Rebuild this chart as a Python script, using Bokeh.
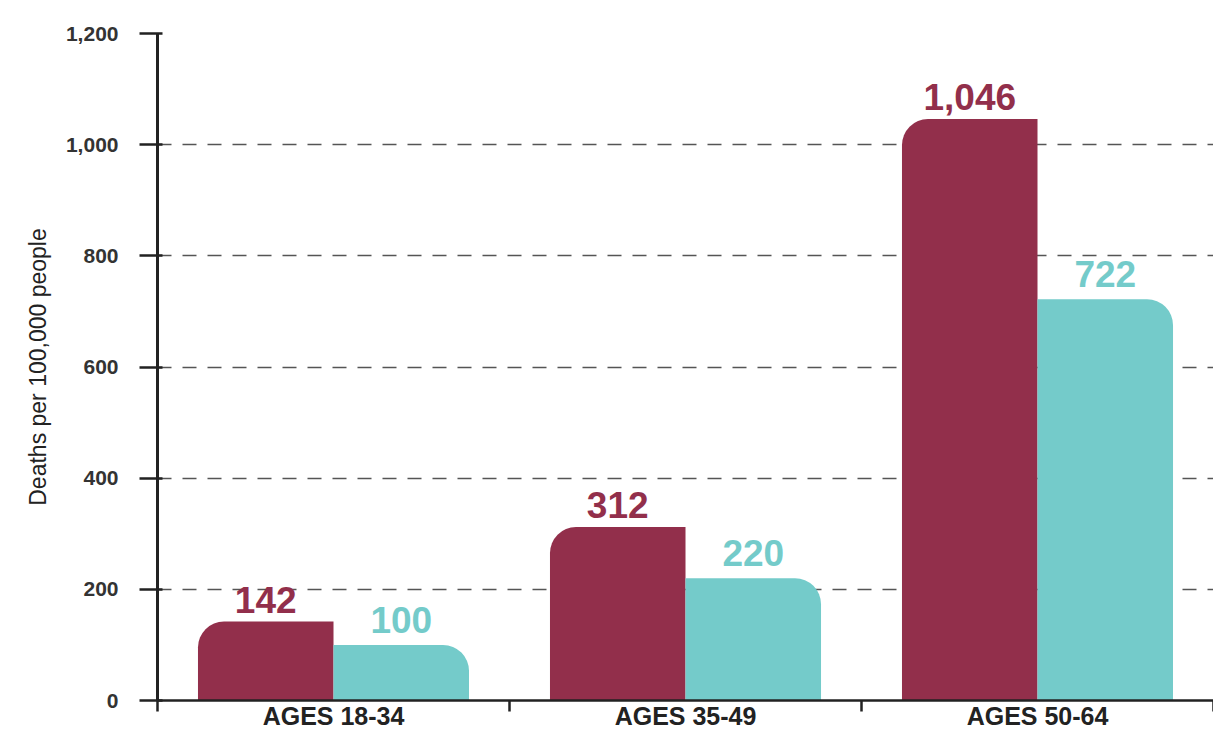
from bokeh.plotting import figure
from bokeh.models import FixedTicker, Range1d, ColumnDataSource
from bokeh.embed import file_html
from bokeh.resources import INLINE

categories = ["AGES 18-34", "AGES 35-49", "AGES 50-64"]
series_a = [142, 312, 1046]
series_b = [100, 220, 722]
label_a = ["142", "312", "1,046"]
label_b = ["100", "220", "722"]
y_ticks = [0, 200, 400, 600, 800, 1000, 1200]
y_tick_labels = ["0", "200", "400", "600", "800", "1,000", "1,200"]

RED = "#922f4b"
TEAL = "#74cbca"
BW = 0.385
FONT = "Liberation Sans"

centers = [i + 0.5 for i in range(len(categories))]
src_a = ColumnDataSource(dict(x=[c - BW / 2 for c in centers], top=series_a, lab=label_a))
src_b = ColumnDataSource(dict(x=[c + BW / 2 for c in centers], top=series_b, lab=label_b))

p = figure(width=1213, height=732, output_backend="svg", toolbar_location=None,
           x_range=Range1d(0, len(categories)), y_range=Range1d(0, 1200),
           min_border_left=157, min_border_right=0, min_border_top=33, min_border_bottom=0)
p.outline_line_color = None
p.background_fill_color = "white"

p.vbar(x="x", top="top", bottom=0, width=BW, source=src_a, fill_color=RED, line_color=None,
       border_radius=(26, 0, 0, 0))
p.vbar(x="x", top="top", bottom=0, width=BW, source=src_b, fill_color=TEAL, line_color=None,
       border_radius=(0, 26, 0, 0))

p.text(x="x", y="top", text="lab", source=src_a, text_color=RED, text_font_size="37px",
       text_font_style="bold", text_align="center", text_baseline="bottom", y_offset=-9,
       text_font={"value": FONT})
p.text(x="x", y="top", text="lab", source=src_b, text_color=TEAL, text_font_size="37px",
       text_font_style="bold", text_align="center", text_baseline="bottom", y_offset=-12,
       text_font={"value": FONT})

# x axis
xa = p.xaxis[0]
xa.ticker = FixedTicker(ticks=centers, minor_ticks=list(range(len(categories) + 1)))
xa.major_label_overrides = {c: lab for c, lab in zip(centers, categories)}
xa.major_tick_out = 0
xa.major_tick_in = 0
xa.minor_tick_out = 11
xa.minor_tick_in = 0
xa.minor_tick_line_width = 2.5
xa.minor_tick_line_color = "#222222"
xa.axis_line_width = 2.5
xa.axis_line_color = "#222222"
xa.major_label_text_font = FONT
xa.major_label_text_font_style = "bold"
xa.major_label_text_font_size = "25px"
xa.major_label_text_color = "#222222"
xa.major_label_standoff = -10

# y axis
ya = p.yaxis[0]
ya.ticker = FixedTicker(ticks=y_ticks)
ya.major_label_overrides = {t: lab for t, lab in zip(y_ticks, y_tick_labels)}
ya.major_tick_out = 18
ya.major_tick_in = 5
ya.major_tick_line_width = 2.5
ya.major_tick_line_color = "#222222"
ya.minor_tick_out = 0
ya.minor_tick_in = 0
ya.axis_line_width = 3
ya.axis_line_color = "#222222"
ya.major_label_text_font = FONT
ya.major_label_text_font_style = "bold"
ya.major_label_text_font_size = "21px"
ya.major_label_text_color = "#333333"
ya.major_label_standoff = 21
ya.axis_label = "Deaths per 100,000 people"
ya.axis_label_text_font = FONT
ya.axis_label_text_font_style = "normal"
ya.axis_label_text_font_size = "23px"
ya.axis_label_text_color = "#222222"
ya.axis_label_standoff = 12

p.xgrid.grid_line_color = None
p.ygrid.ticker = FixedTicker(ticks=y_ticks[1:])
p.ygrid.grid_line_color = "#555555"
p.ygrid.grid_line_width = 1.5
p.ygrid.grid_line_dash = "14 11"

open("out.html", "w").write(file_html(p, INLINE))
